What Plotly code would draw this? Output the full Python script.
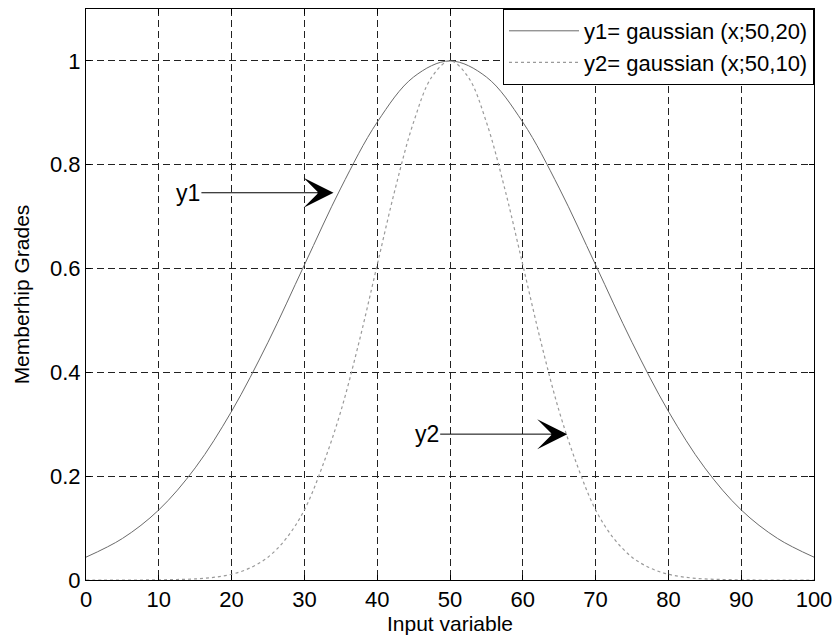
import plotly.graph_objects as go

# Values
x1 = [0, 5, 10, 15, 20, 25, 30, 35, 40, 45, 50, 55, 60, 65, 70, 75, 80, 85, 90, 95, 100]
y1 = [0.044, 0.08, 0.135, 0.216, 0.325, 0.458, 0.607, 0.755, 0.882, 0.969, 1.0,
      0.969, 0.882, 0.755, 0.607, 0.458, 0.325, 0.216, 0.135, 0.08, 0.044]

x2 = [0, 2.5, 5, 7.5, 10, 12.5, 15, 17.5, 20, 22.5, 25, 27.5, 30, 32.5, 35, 37.5, 40, 42.5, 45, 47.5, 50,
      52.5, 55, 57.5, 60, 62.5, 65, 67.5, 70, 72.5, 75, 77.5, 80, 82.5, 85, 87.5, 90, 92.5, 95, 97.5, 100]
y2 = [0.0, 0.0, 0.0, 0.0, 0.0003, 0.001, 0.002, 0.005, 0.011, 0.023, 0.044, 0.08, 0.135, 0.22, 0.325,
      0.458, 0.607, 0.755, 0.882, 0.969, 1.0, 0.969, 0.882, 0.755, 0.607, 0.458, 0.325, 0.22, 0.135,
      0.08, 0.044, 0.023, 0.011, 0.005, 0.002, 0.001, 0.0003, 0.0, 0.0, 0.0, 0.0]

names = ["y1= gaussian (x;50,20)", "y2= gaussian (x;50,10)"]
x_ticks = [0, 10, 20, 30, 40, 50, 60, 70, 80, 90, 100]
y_ticks = [0, 0.2, 0.4, 0.6, 0.8, 1]
y_tick_text = ["0", "0.2", "0.4", "0.6", "0.8", "1"]

# arrow labels: (text, text x, arrow tip x, y)
labels = [("y1", 14.0, 34.0, 0.746), ("y2", 46.8, 66.1, 0.281)]

FONT = "Liberation Sans, Arial, sans-serif"

fig = go.Figure()
fig.add_trace(go.Scatter(x=x1, y=y1, mode="lines", name=names[0],
                         line=dict(color="#6a6a6a", width=1, shape="spline")))
fig.add_trace(go.Scatter(x=x2, y=y2, mode="lines", name=names[1],
                         line=dict(color="#9a9a9a", width=1.2, dash="dot", shape="spline")))

for txt, tx, hx, hy in labels:
    fig.add_annotation(x=hx, y=hy, ax=tx, ay=hy, axref="x", ayref="y", xref="x", yref="y",
                       text=txt, showarrow=True, arrowhead=3, arrowsize=5, arrowwidth=1,
                       arrowcolor="black", font=dict(family=FONT, size=23, color="black"),
                       standoff=0, startstandoff=0)

fig.update_layout(
    width=836, height=638,
    margin=dict(l=86, r=22, t=9, b=58),
    paper_bgcolor="white", plot_bgcolor="white",
    font=dict(family=FONT, size=22, color="black"),
    showlegend=True,
    legend=dict(x=1, y=1, xanchor="right", yanchor="top", bgcolor="white",
                bordercolor="black", borderwidth=1, font=dict(size=22, family=FONT),
                itemwidth=70, tracegroupgap=0),
)
fig.update_xaxes(range=[0, 100], tickvals=x_ticks, ticks="inside", ticklen=5, tickcolor="black",
                 showline=True, linecolor="black", linewidth=1, mirror="ticks",
                 showgrid=True, gridcolor="#222", gridwidth=1, griddash="7px,4px",
                 zeroline=False, tickfont=dict(size=22, family=FONT), automargin=False,
                 title=dict(text="Input variable", font=dict(size=21, family=FONT), standoff=4))
fig.update_yaxes(range=[0, 1.1], tickvals=y_ticks, ticktext=y_tick_text, ticks="inside", ticklen=5,
                 tickcolor="black", showline=True, linecolor="black", linewidth=1, mirror="ticks",
                 showgrid=True, gridcolor="#222", gridwidth=1, griddash="7px,4px",
                 zeroline=False, tickfont=dict(size=22, family=FONT), automargin=False,
                 title=dict(text="Memberhip Grades", font=dict(size=21, family=FONT), standoff=14))

fig.write_html("out.html")
